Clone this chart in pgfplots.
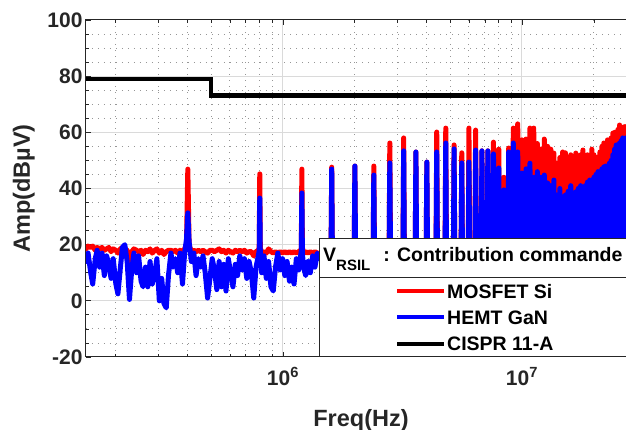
\documentclass[border=0pt]{standalone}
\usepackage{fontspec}
\setmainfont{Liberation Sans}
\usepackage{pgfplots}
\pgfplotsset{compat=1.18}

\definecolor{axgray}{RGB}{38,38,38}
\definecolor{gridmaj}{RGB}{218,218,218}
\definecolor{gridmin}{RGB}{150,150,150}

\begin{document}
\begin{tikzpicture}
\begin{axis}[
  at={(0pt,0pt)}, anchor=south west,
  scale only axis, width=550pt, height=337pt,
  xmode=log, xmin=0.15, xmax=30,
  ymin=-20, ymax=100,
  xtick={1,10},
  xticklabels={\textbf{10\textsuperscript{6}},\textbf{10\textsuperscript{7}}},
  minor xtick={0.2,0.3,0.4,0.5,0.6,0.7,0.8,0.9,2,3,4,5,6,7,8,9,20,30},
  ytick={-20,0,20,40,60,80,100},
  minor y tick num=3,
  grid=both,
  major grid style={gridmaj, line width=1pt},
  minor grid style={gridmin, line width=0.9pt, dash pattern=on 1pt off 5pt},
  tick align=inside,
  major tick length=5pt, minor tick length=3pt,
  every tick/.style={axgray, line width=0.8pt},
  axis line style={axgray, line width=1pt},
  /pgf/number format/assume math mode=true,
  ticklabel style={font=\fontsize{21}{24}\selectfont\bfseries, text=axgray},
  xticklabel style={yshift=-7pt},
  xlabel={\textbf{Freq(Hz)}},
  ylabel={\textbf{Amp(dBµV)}},
  label style={font=\fontsize{23.5}{27}\selectfont\bfseries, text=axgray},
  xlabel style={at={(axis description cs:0.5,-0.205)}, anchor=base},
  ylabel style={at={(axis description cs:-0.113,0.5)}, anchor=center},
]
% MOSFET Si
\addplot[red, line width=5pt, line join=round, line cap=round] coordinates {
(0.150,18.5) (0.153,19.5) (0.157,19) (0.160,19.5) (0.164,18) (0.167,19) (0.171,18.5)
(0.175,19) (0.179,18) (0.183,18.5) (0.187,19) (0.191,17.5) (0.195,18.5) (0.200,18)
(0.204,17) (0.209,18.5) (0.213,19) (0.218,18.5) (0.223,18) (0.228,13.5) (0.233,17.5)
(0.238,18.5) (0.244,18) (0.249,17.5) (0.255,18) (0.260,16.5) (0.266,18) (0.272,17.5)
(0.278,18.5) (0.284,17) (0.291,18) (0.297,18.5) (0.304,17) (0.311,18) (0.318,16.5)
(0.325,17.5) (0.332,18) (0.340,18) (0.347,17.5) (0.355,18) (0.363,17) (0.371,18)
(0.380,17.5) (0.388,18.5) (0.395,20) (0.400,46.9) (0.405,20) (0.414,17.5) (0.424,18)
(0.433,17.5) (0.443,18) (0.453,17.5) (0.463,18) (0.473,17.5) (0.484,17) (0.495,18)
(0.506,18) (0.517,17.5) (0.529,18) (0.541,18.5) (0.553,17.5) (0.565,18) (0.578,17)
(0.591,18) (0.604,17.5) (0.618,17) (0.632,18) (0.646,17.5) (0.660,18) (0.675,17.5)
(0.690,18) (0.706,17) (0.722,17.5) (0.738,17.5) (0.755,16) (0.772,17.5) (0.789,18)
(0.796,19) (0.800,45.2) (0.804,19) (0.815,17) (0.833,17.5) (0.852,17) (0.871,18.5)
(0.891,17.5) (0.911,17) (0.931,17.5) (0.952,17) (0.974,17.5) (0.996,17) (1.018,17.5)
(1.041,17) (1.065,17.5) (1.089,17) (1.113,17.5) (1.138,17) (1.164,17.5) (1.190,18)
(1.194,19) (1.200,46.9) (1.206,19) (1.220,17) (1.245,17.5) (1.273,17) (1.302,17.5)
(1.331,17) (1.361,17.5) (1.392,17) (1.423,17) (1.455,16)
(1.588,12) (1.6,47.6) (1.612,12)
(1.985,12) (2.0,48.0) (2.015,12)
(2.382,12) (2.4,48.0) (2.418,12)
(2.779,12) (2.8,56.2) (2.821,12)
(3.176,12) (3.2,58.0) (3.224,12)
(3.573,12) (3.6,53.0) (3.627,12)
(3.97,12) (4.0,49.4) (4.03,12)
(4.367,12) (4.4,60.1) (4.433,12)
(4.764,12) (4.8,61.5) (4.836,12)
(5.161,12) (5.2,55.5) (5.239,12)
(5.558,12) (5.6,52.7) (5.642,12)
(5.955,12) (6.0,61.5) (6.045,12)
(6.352,12) (6.4,60.8) (6.448,12)
(6.749,12) (6.8,53.4) (6.851,12)
(7.146,12) (7.2,53.4) (7.254,12)
(7.543,12) (7.6,56.5) (7.657,12)
(7.94,12) (8.0,54.0) (8.06,12)
(8.337,12) (8.4,44.0) (8.463,12)
(8.734,12) (8.8,54.4) (8.866,12)
(9.131,12) (9.2,61.5) (9.269,12)
(9.528,12) (9.6,63.0) (9.672,12)
(9.925,12) (10.0,57.3) (10.075,12)
(10.322,12) (10.4,57.6) (10.478,12)
(10.719,12) (10.8,61.5) (10.881,12)
(11.116,12) (11.2,61.5) (11.284,12)
(11.513,12) (11.6,56.0) (11.687,12)
(11.91,12) (12.0,54.0) (12.09,12)
(12.307,12) (12.4,57.6) (12.493,12)
(12.704,12) (12.8,55.0) (12.896,12)
(13.101,12) (13.2,54.0) (13.299,12)
(13.498,12) (13.6,52.6) (13.702,12)
(13.895,12) (14.0,49.0) (14.105,12)
(14.292,12) (14.4,51.0) (14.508,12)
(14.689,12) (14.8,53.0) (14.911,12)
(15.086,12) (15.2,52.7) (15.314,12)
(15.483,12) (15.6,50.0) (15.717,12)
(15.88,12) (16.0,52.0) (16.12,12)
(16.277,12) (16.4,51.0) (16.523,12)
(16.674,12) (16.8,52.6) (16.926,12)
(17.071,12) (17.2,50.0) (17.329,12)
(17.468,12) (17.6,52.0) (17.732,12)
(17.865,12) (18.0,53.7) (18.135,12)
(18.262,12) (18.4,51.0) (18.538,12)
(18.659,12) (18.8,52.0) (18.941,12)
(19.056,12) (19.2,50.0) (19.344,12)
(19.453,12) (19.6,54.0) (19.747,12)
(19.85,12) (20.0,52.0) (20.15,12)
(20.247,12) (20.4,50.0) (20.553,12)
(20.644,12) (20.8,51.2) (20.956,12)
(21.041,12) (21.2,53.0) (21.359,12)
(21.438,12) (21.6,55.0) (21.762,12)
(21.835,12) (22.0,56.2) (22.165,12)
(22.232,12) (22.4,55.0) (22.568,12)
(22.629,12) (22.8,57.3) (22.971,12)
(23.026,12) (23.2,56.0) (23.374,12)
(23.423,12) (23.6,58.0) (23.777,12)
(23.82,12) (24.0,59.7) (24.18,12)
(24.217,12) (24.4,60.0) (24.583,12)
(24.614,12) (24.8,58.0) (24.986,12)
(25.011,12) (25.2,61.0) (25.389,12)
(25.408,12) (25.6,62.6) (25.792,12)
(25.805,12) (26.0,61.0) (26.195,12)
(26.202,12) (26.4,60.0) (26.598,12)
(26.599,12) (26.8,62.0) (27.0,12)
(27.0,12) (27.2,62.0) (27.404,12)
(27.404,12) (27.6,61.0) (27.807,12)
};
% HEMT GaN
\addplot[blue, line width=5pt, line join=round, line cap=round] coordinates {
(0.150,14) (0.153,17) (0.157,10) (0.160,6) (0.164,15) (0.167,18) (0.171,12)
(0.175,17) (0.179,9) (0.183,16) (0.187,13) (0.191,8) (0.195,15) (0.200,6)
(0.204,2.5) (0.209,12) (0.213,19) (0.218,20) (0.223,14) (0.228,0.5) (0.233,11)
(0.238,17) (0.244,10) (0.249,16) (0.255,7) (0.260,5) (0.266,12) (0.272,5)
(0.278,14) (0.284,6) (0.291,10) (0.297,15) (0.304,0) (0.311,8) (0.318,-1)
(0.325,-2.5) (0.332,9) (0.340,17) (0.347,12) (0.355,15) (0.363,10) (0.371,17)
(0.380,6) (0.388,17) (0.395,22) (0.400,31.3) (0.405,21) (0.414,14) (0.424,17)
(0.433,9) (0.443,15) (0.453,12) (0.463,16) (0.473,10) (0.484,1) (0.495,8)
(0.506,15) (0.517,11) (0.529,4) (0.541,14) (0.553,5) (0.565,13) (0.578,3.5)
(0.591,15) (0.604,10) (0.618,5) (0.632,13) (0.646,9) (0.660,16) (0.675,11)
(0.690,15) (0.706,8) (0.722,14) (0.738,10) (0.755,1) (0.772,12) (0.789,16)
(0.796,18) (0.800,36.6) (0.804,17) (0.815,10) (0.833,16) (0.852,8) (0.871,14)
(0.891,5) (0.911,3.5) (0.931,12) (0.952,17) (0.974,11) (0.996,15) (1.018,9)
(1.041,14) (1.065,7) (1.089,12) (1.113,6) (1.138,15) (1.164,11) (1.190,17)
(1.194,18) (1.200,38.4) (1.206,17) (1.220,12) (1.245,9) (1.273,14) (1.302,10)
(1.331,16) (1.361,12) (1.392,17) (1.423,15) (1.455,16)
(1.588,12) (1.6,46.9) (1.612,12)
(1.985,12) (2.0,48.0) (2.015,12)
(2.382,12) (2.4,44.8) (2.418,12)
(2.779,12) (2.8,49.1) (2.821,12)
(3.176,12) (3.2,53.4) (3.224,12)
(3.573,12) (3.6,53.0) (3.627,12)
(3.97,12) (4.0,49.4) (4.03,12)
(4.367,12) (4.4,53.0) (4.433,12)
(4.764,12) (4.8,56.2) (4.836,12)
(5.161,12) (5.2,54.1) (5.239,12)
(5.558,12) (5.6,49.1) (5.642,12)
(5.955,12) (6.0,49.4) (6.045,12)
(6.352,12) (6.4,53.7) (6.448,12)
(6.749,12) (6.8,53.4) (6.851,12)
(7.146,12) (7.2,53.4) (7.254,12)
(7.543,12) (7.6,52.3) (7.657,12)
(7.94,12) (8.0,47.3) (8.06,12)
(8.337,12) (8.4,39.5) (8.463,12)
(8.734,12) (8.8,53.0) (8.866,12)
(9.131,12) (9.2,56.2) (9.269,12)
(9.528,12) (9.6,53.0) (9.672,12)
(9.925,12) (10.0,45.5) (10.075,12)
(10.322,12) (10.4,47.0) (10.478,12)
(10.719,12) (10.8,49.0) (10.881,12)
(11.116,12) (11.2,44.0) (11.284,12)
(11.513,12) (11.6,46.0) (11.687,12)
(11.91,12) (12.0,44.0) (12.09,12)
(12.307,12) (12.4,44.8) (12.493,12)
(12.704,12) (12.8,42.0) (12.896,12)
(13.101,12) (13.2,41.0) (13.299,12)
(13.498,12) (13.6,43.0) (13.702,12)
(13.895,12) (14.0,37.7) (14.105,12)
(14.292,12) (14.4,40.0) (14.508,12)
(14.689,12) (14.8,37.0) (14.911,12)
(15.086,12) (15.2,37.7) (15.314,12)
(15.483,12) (15.6,39.0) (15.717,12)
(15.88,12) (16.0,41.0) (16.12,12)
(16.277,12) (16.4,36.0) (16.523,12)
(16.674,12) (16.8,38.8) (16.926,12)
(17.071,12) (17.2,40.0) (17.329,12)
(17.468,12) (17.6,41.0) (17.732,12)
(17.865,12) (18.0,39.8) (18.135,12)
(18.262,12) (18.4,41.0) (18.538,12)
(18.659,12) (18.8,42.3) (18.941,12)
(19.056,12) (19.2,43.0) (19.344,12)
(19.453,12) (19.6,43.0) (19.747,12)
(19.85,12) (20.0,44.0) (20.15,12)
(20.247,12) (20.4,45.0) (20.553,12)
(20.644,12) (20.8,46.0) (20.956,12)
(21.041,12) (21.2,45.0) (21.359,12)
(21.438,12) (21.6,47.0) (21.762,12)
(21.835,12) (22.0,47.7) (22.165,12)
(22.232,12) (22.4,48.0) (22.568,12)
(22.629,12) (22.8,48.0) (22.971,12)
(23.026,12) (23.2,49.0) (23.374,12)
(23.423,12) (23.6,50.0) (23.777,12)
(23.82,12) (24.0,52.0) (24.18,12)
(24.217,12) (24.4,54.0) (24.583,12)
(24.614,12) (24.8,55.5) (24.986,12)
(25.011,12) (25.2,55.0) (25.389,12)
(25.408,12) (25.6,56.2) (25.792,12)
(25.805,12) (26.0,57.0) (26.195,12)
(26.202,12) (26.4,58.0) (26.598,12)
(26.599,12) (26.8,57.0) (27.0,12)
(27.0,12) (27.2,58.0) (27.404,12)
(27.404,12) (27.6,57.0) (27.807,12)
};
% CISPR 11-A
\addplot[black, line width=4.7pt] coordinates {(0.15,79) (0.5,79) (0.5,73) (30,73)};
\end{axis}
% legend
\begin{scope}[font=\fontsize{19.5}{22}\selectfont\bfseries]
\fill[white] (233pt,0pt) rectangle (600pt,118pt);
\draw[axgray, line width=1pt] (233pt,0pt) rectangle (600pt,118pt);
\draw[axgray, line width=0.8pt] (233pt,80pt) -- (600pt,80pt);
\node[anchor=base west, inner sep=0pt] at (237pt,95pt)
  {V\raisebox{-9pt}{\fontsize{15}{15}\selectfont RSIL}\hspace{13pt}: Contribution commande};
\draw[red, line width=4pt] (311pt,66pt) -- (358pt,66pt);
\node[anchor=base west, inner sep=0pt] at (361pt,58pt) {MOSFET Si};
\draw[blue, line width=4pt] (311pt,40pt) -- (358pt,40pt);
\node[anchor=base west, inner sep=0pt] at (361pt,32pt) {HEMT GaN};
\draw[black, line width=4pt] (311pt,13pt) -- (358pt,13pt);
\node[anchor=base west, inner sep=0pt] at (361pt,6pt) {CISPR 11-A};
\end{scope}
\pgfresetboundingbox
\path[use as bounding box] (-86pt,-73pt) rectangle (540pt,357pt);
\end{tikzpicture}
\end{document}
